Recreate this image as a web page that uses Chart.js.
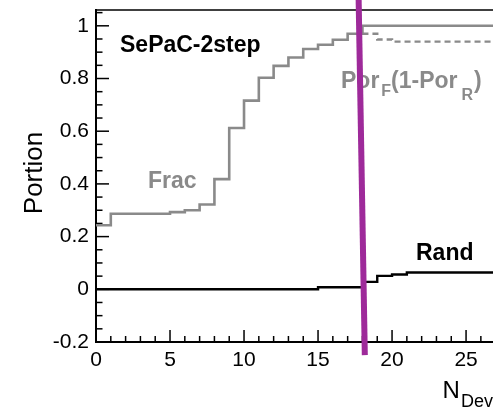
<!DOCTYPE html>
<html><head><meta charset="utf-8">
<script src="https://cdn.jsdelivr.net/npm/chart.js@4"></script>
<style>html,body{margin:0;padding:0;background:#fff;overflow:hidden}#wrap{width:493px;height:409px}</style>
</head><body><div id="wrap"><canvas id="c" width="493" height="409"></canvas></div>
<script>
// ---- data ----
const fracX = [0, 1, 5, 6, 7, 8, 9, 10, 11, 12, 13, 14, 15, 16, 17, 18, 27];
const fracY = [0.243, 0.287, 0.293, 0.300, 0.322, 0.418, 0.612, 0.716, 0.803, 0.848, 0.880, 0.912, 0.928, 0.947, 0.970, 1.0, 1.0];
const porX = [18, 19, 20, 27];
const porY = [0.970, 0.948, 0.940, 0.940];
const randX = [0, 15, 18, 19, 20, 21, 27];
const randY = [0, 0.008, 0.028, 0.051, 0.056, 0.064, 0.064];
const markX = [17.74, 18.16];
const markY = [1.11, -0.25];
// ---- axes / tick labels ----
const xMin = 0, xMax = 26.82, yMin = -0.2, yMax = 1.06;
const xTickLabels = ['0', '5', '10', '15', '20', '25'];
const yTickLabels = ['-0.2', '0', '0.2', '0.4', '0.6', '0.8', '1'];
const xMinorStep = 1, yMinorStep = 0.05;

const FONT = "'Liberation Sans', Arial, sans-serif";
const GRAY = '#8a8a8a';
const PURPLE = '#9e2a9a';

function pts(xs, ys){ return xs.map((x,i)=>({x:x, y:ys[i]})); }

const xTicks = []; for (let v = xMin; v <= xMax + 1e-9; v += xMinorStep) xTicks.push(Math.round(v*1000)/1000);
const yTicks = []; for (let k = 0; yMin + k*yMinorStep <= yMax + 1e-9; k++) yTicks.push(Math.round((yMin + k*yMinorStep)*1000)/1000);
const xLabelVals = xTickLabels.map(Number);
const yLabelVals = yTickLabels.map(Number);

const overlay = {
  id: 'overlay',
  beforeDatasetsDraw(chart) {
    const ctx = chart.ctx, a = chart.chartArea;
    const xs = chart.scales.x, ys = chart.scales.y;
    ctx.save();
    ctx.strokeStyle = '#000';
    ctx.lineWidth = 1.5;
    // top frame
    ctx.beginPath(); ctx.moveTo(a.left, a.top); ctx.lineTo(a.right, a.top); ctx.stroke();
    // inward ticks
    xTicks.forEach(v => {
      const p = xs.getPixelForValue(v);
      const major = xLabelVals.some(l => Math.abs(l - v) < 1e-6);
      const len = major ? 12 : 6;
      ctx.beginPath(); ctx.moveTo(p, a.bottom); ctx.lineTo(p, a.bottom - len); ctx.stroke();
    });
    yTicks.forEach(v => {
      const p = ys.getPixelForValue(v);
      const major = yLabelVals.some(l => Math.abs(l - v) < 1e-6);
      const len = major ? 13 : 6.5;
      ctx.beginPath(); ctx.moveTo(a.left, p); ctx.lineTo(a.left + len, p); ctx.stroke();
    });
    // texts
    ctx.textBaseline = 'alphabetic';
    ctx.textAlign = 'left';
    ctx.fillStyle = '#000';
    ctx.font = 'bold 23px ' + FONT;
    ctx.fillText('SePaC-2step', 120, 52);
    ctx.fillText('Rand', 416, 260);
    ctx.fillStyle = GRAY;
    ctx.fillText('Frac', 148, 188);
    // Por_F(1-Por_R)
    let x = 341;
    const big = 'bold 23px ' + FONT, small = 'bold 16px ' + FONT;
    ctx.font = big; ctx.fillText('Por', x, 88); x += ctx.measureText('Por').width + 2;
    ctx.font = small; ctx.fillText('F', x, 96); x += ctx.measureText('F').width;
    ctx.font = big; ctx.fillText('(1-Por', x, 88); x += ctx.measureText('(1-Por').width + 4;
    ctx.font = small; ctx.fillText('R', x, 100); x += ctx.measureText('R').width + 1;
    ctx.font = big; ctx.fillText(')', x, 88);
    // axis titles
    ctx.fillStyle = '#000';
    ctx.font = '26px ' + FONT;
    ctx.save(); ctx.translate(42, 173); ctx.rotate(-Math.PI/2); ctx.textAlign = 'center';
    ctx.fillText('Portion', 0, 0); ctx.restore();
    ctx.font = '24px ' + FONT; ctx.fillText('N', 442.5, 398);
    ctx.font = '18px ' + FONT; ctx.fillText('Dev', 461, 407);
    ctx.restore();
  }
};

new Chart(document.getElementById('c'), {
  type: 'line',
  data: {
    datasets: [
      { label: 'marker', data: pts(markX, markY), borderColor: PURPLE, borderWidth: 6, pointRadius: 0, clip: false, tension: 0 },
      { label: 'Frac', data: pts(fracX, fracY), borderColor: GRAY, borderWidth: 2.6, pointRadius: 0, stepped: 'before' },
      { label: 'PorF(1-PorR)', data: pts(porX, porY), borderColor: GRAY, borderWidth: 2.4, borderDash: [6, 4], pointRadius: 0, stepped: 'before' },
      { label: 'Rand', data: pts(randX, randY), borderColor: '#000', borderWidth: 2.4, pointRadius: 0, stepped: 'before' }
    ]
  },
  options: {
    responsive: false, animation: false, devicePixelRatio: 1,
    layout: { padding: { top: 10, right: 0, left: 0, bottom: 0 } },
    plugins: { legend: { display: false }, tooltip: { enabled: false } },
    scales: {
      x: {
        type: 'linear', min: xMin, max: xMax,
        afterFit: s => { s.height = 67; s.paddingLeft = 0; s.paddingRight = 0; },
        afterBuildTicks: s => { s.ticks = xTicks.map(v => ({ value: v })); },
        ticks: { autoSkip: false, maxRotation: 0, color: '#000', padding: 6,
          font: { family: FONT, size: 21 },
          callback: v => { const i = xLabelVals.findIndex(l => Math.abs(l - v) < 1e-6); return i >= 0 ? xTickLabels[i] : null; } },
        grid: { display: false, drawTicks: false },
        border: { display: true, color: '#000', width: 2 }
      },
      y: {
        type: 'linear', min: yMin, max: yMax,
        afterFit: s => { s.width = 96; s.paddingTop = 0; s.paddingBottom = 0; },
        afterBuildTicks: s => { s.ticks = yTicks.map(v => ({ value: v })); },
        ticks: { autoSkip: false, color: '#000', padding: 7,
          font: { family: FONT, size: 21 },
          callback: v => { const i = yLabelVals.findIndex(l => Math.abs(l - v) < 1e-6); return i >= 0 ? yTickLabels[i] : null; } },
        grid: { display: false, drawTicks: false },
        border: { display: true, color: '#000', width: 2 }
      }
    }
  },
  plugins: [overlay]
});
</script></body></html>
